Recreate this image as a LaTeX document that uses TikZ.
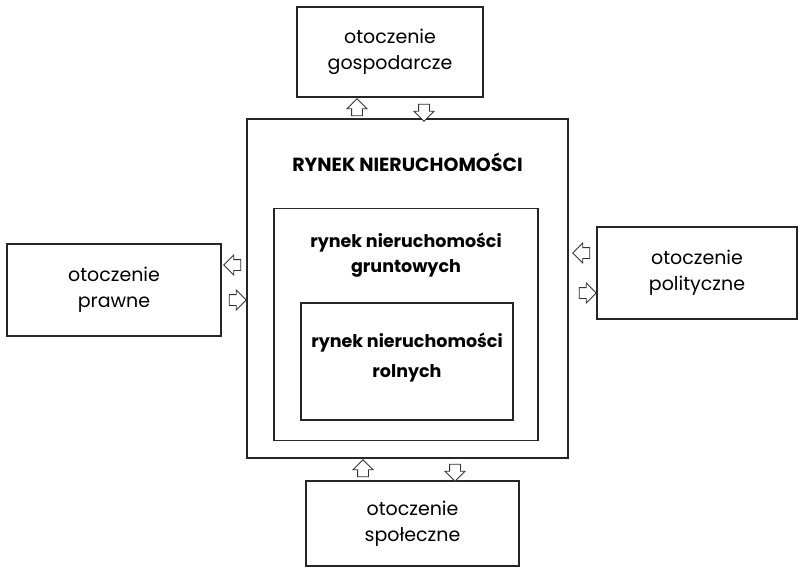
\documentclass[tikz,border=0pt]{standalone}
\usepackage{fontspec}
\setmainfont{Poppins}
\usetikzlibrary{shapes.arrows}
\begin{document}
\begin{tikzpicture}[
    x=1pt, y=-1pt,
    box/.style={draw=black!85, line width=1.1pt, align=center, inner sep=0pt},
    envbox/.style={box, font=\fontsize{19}{26}\selectfont},
    bigtext/.style={align=center, font=\bfseries\fontsize{17.5}{25}\selectfont},
    blockarrow/.style={single arrow, draw=black!80, line width=0.8pt, fill=white, inner xsep=0pt, inner ysep=5pt,
      minimum height=17pt, minimum width=19pt, single arrow head extend=4.5pt}
  ]
  \useasboundingbox (0,0) rectangle (802,572);

  % market boxes, nested
  \node[box, minimum width=321pt, minimum height=339pt] (rynek) at (407.5,288.5) {};
  \node[box, minimum width=264pt, minimum height=232pt] (grunty) at (406,324.5) {};
  \node[box, minimum width=212pt, minimum height=117pt] (rolne) at (407,361.5) {};

  \node[bigtext, font=\bfseries\fontsize{19}{25}\selectfont] (rynektxt) at (407.5,162) {RYNEK NIERUCHOMOŚCI};
  \node[bigtext] (gruntytxt) at (406,255.5) {rynek nieruchomości\\gruntowych};
  \node[bigtext, font=\bfseries\fontsize{17.5}{30}\selectfont] (rolnetxt) at (407,358) {rynek nieruchomości\\rolnych};

  % surrounding environments
  \node[envbox, minimum width=186pt, minimum height=90pt] (gospodarcze) at (390,52) {otoczenie\\gospodarcze};
  \node[envbox, minimum width=214pt, minimum height=92pt] (prawne) at (114,290) {otoczenie\\prawne};
  \node[envbox, minimum width=200pt, minimum height=92pt] (polityczne) at (697,273) {otoczenie\\polityczne};
  \node[envbox, minimum width=213pt, minimum height=85pt] (spoleczne) at (412.5,523.5) {otoczenie\\społeczne};

  % block arrows between the boxes
  \node[blockarrow, rotate=90] (gospUp) at (357,110) {};
  \node[blockarrow, rotate=-90] (gospDown) at (424,110) {};
  \node[blockarrow, rotate=180] (prawLeft) at (235,265) {};
  \node[blockarrow] (prawRight) at (235,300) {};
  \node[blockarrow, rotate=180] (polLeft) at (584,253) {};
  \node[blockarrow] (polRight) at (585,293) {};
  \node[blockarrow, rotate=90] (spolUp) at (363,471) {};
  \node[blockarrow, rotate=-90] (spolDown) at (455,470) {};

\end{tikzpicture}
\end{document}
